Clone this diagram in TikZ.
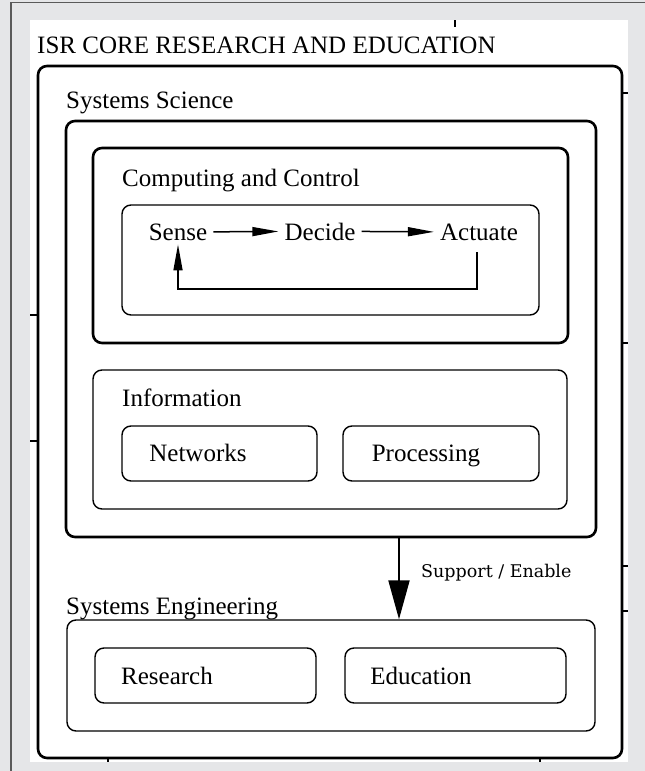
\documentclass[tikz,border=0pt]{standalone}
\usepackage{fontspec}
\setmainfont{Liberation Serif}
\newfontfamily\schfont{DejaVu Serif}
\usetikzlibrary{arrows.meta}
\definecolor{bggray}{HTML}{E5E6E8}
\definecolor{framegray}{HTML}{5A5A5A}
\begin{document}
\begin{tikzpicture}[x=1pt,y=-1pt,
  heavybox/.style={draw=black, line width=2.6pt, rounded corners=9pt, inner sep=0pt, fill=white},
  lightbox/.style={draw=black, line width=1.4pt, rounded corners=9pt, inner sep=0pt, fill=white},
  lbl/.style={anchor=base west, inner sep=0pt, font=\fontsize{25}{30}\selectfont},
  word/.style={anchor=base, inner sep=3pt, font=\fontsize{25}{30}\selectfont},
  flowword/.style={anchor=base, inner sep=6pt, font=\fontsize{25}{30}\selectfont},
  flowarrow/.style={line width=1.5pt, -{Triangle[length=26pt,width=9pt]}},
  bigarrow/.style={line width=2pt, -{Triangle[length=39pt,width=21pt]}},
  tick/.style={line width=2pt, black}]
% background and page frame
\useasboundingbox (0,0) rectangle (645,771);
\fill[bggray] (0,0) rectangle (645,771);
\fill[white] (30,20) rectangle (628,762);
\draw[framegray, line width=1.5pt] (11,771) -- (11,2.5) -- (645,2.5);
% ticks on the white panel edges
\draw[tick] (455,20) -- (455,27);
\draw[tick] (622,93) -- (628,93);
\draw[tick] (622,343) -- (628,343);
\draw[tick] (622,566) -- (628,566);
\draw[tick] (622,611) -- (628,611);
\draw[tick] (30,315) -- (38,315);
\draw[tick] (30,441) -- (38,441);
\draw[tick] (108,757) -- (108,762);
\draw[tick] (540,757) -- (540,762);
% title
\node[lbl] (title) at (37,53) {ISR CORE RESEARCH AND EDUCATION};
% boxes
\node[heavybox, minimum width=584pt, minimum height=692pt] (outer) at (330,412) {};
\node[heavybox, minimum width=530pt, minimum height=416pt] (ssbox) at (331,329) {};
\node[heavybox, minimum width=475pt, minimum height=195pt] (ccbox) at (330.5,245.5) {};
\node[lightbox, minimum width=417pt, minimum height=110pt] (sdabox) at (330.5,260) {};
\node[lightbox, minimum width=474pt, minimum height=139pt] (infobox) at (330,439.5) {};
\node[lightbox, minimum width=195pt, minimum height=55pt] (netbox) at (219.5,453.5) {};
\node[lightbox, minimum width=196pt, minimum height=55pt] (procbox) at (441,453.5) {};
\node[lightbox, minimum width=528pt, minimum height=111pt] (sebox) at (331,675.5) {};
\node[lightbox, minimum width=221pt, minimum height=55pt] (resbox) at (205.5,675.5) {};
\node[lightbox, minimum width=221pt, minimum height=55pt] (edubox) at (455.5,675.5) {};
% labels
\node[lbl] (sslbl) at (66,108) {Systems Science};
\node[lbl] (cclbl) at (122,186) {Computing and Control};
\node[lbl] (infolbl) at (122,406) {Information};
\node[lbl] (selbl) at (66,614) {Systems Engineering};
\node[word] (net) at (198,461) {Networks};
\node[word] (proc) at (426,461) {Processing};
\node[word] (res) at (167,684) {Research};
\node[word] (edu) at (421,684) {Education};
% sense - decide - actuate
\node[flowword] (sense) at (178,240) {Sense};
\node[flowword] (decide) at (320,240) {Decide};
\node[flowword] (actuate) at (479,240) {Actuate};
\draw[flowarrow] (sense.east) -- (decide.west);
\draw[flowarrow] (decide.east) -- (actuate.west);
\coordinate (fb) at (0,289);
\draw[flowarrow] ([shift={(-2,6)}]actuate.south) |- (fb -| sense.south) -- ([yshift=2pt]sense.south);
% support / enable
\coordinate (ax) at (399,0);
\draw[bigarrow] (ssbox.south -| ax) -- (sebox.north -| ax);
\node[anchor=base west, inner sep=0pt, font=\schfont\fontsize{17.5}{21}\selectfont] (sup) at (421,577) {Support / Enable};
\end{tikzpicture}
\end{document}
